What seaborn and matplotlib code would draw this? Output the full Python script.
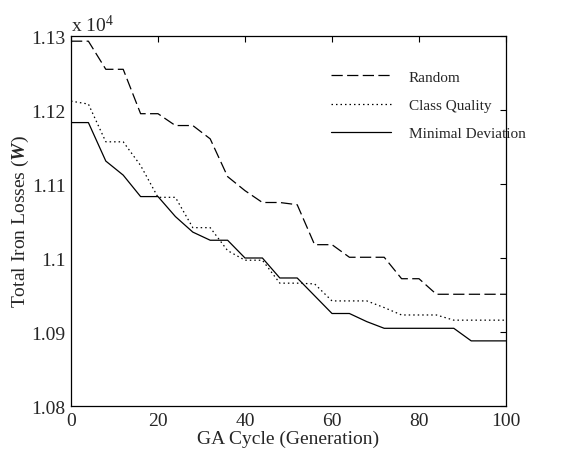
import numpy as np
import pandas as pd
import matplotlib
matplotlib.use("Agg")
import matplotlib.pyplot as plt
import seaborn as sns
from matplotlib.ticker import FixedLocator, FuncFormatter

generations = list(range(0, 101, 4))
random_w = [11293, 11293, 11255, 11255, 11195, 11195, 11179, 11179, 11161, 11110,
            11091, 11075, 11075, 11072, 11018, 11018, 11001, 11001, 11001, 10972,
            10972, 10951, 10951, 10951, 10951, 10951]
class_quality_w = [11212, 11208, 11157, 11157, 11125, 11082, 11082, 11041, 11041, 11010,
                   10997, 10997, 10966, 10966, 10965, 10942, 10942, 10942, 10933, 10923,
                   10923, 10923, 10916, 10916, 10916, 10916]
minimal_dev_w = [11183, 11183, 11131, 11112, 11083, 11083, 11056, 11035, 11024, 11024,
                 11000, 11000, 10973, 10973, 10949, 10925, 10925, 10914, 10905, 10905,
                 10905, 10905, 10905, 10888, 10888, 10888]
series_names = ["Random", "Class Quality", "Minimal Deviation"]
x_ticks = [0, 20, 40, 60, 80, 100]
y_ticks = [10800, 10900, 11000, 11100, 11200, 11300]

df = pd.DataFrame({
    "gen": generations * 3,
    "loss": random_w + class_quality_w + minimal_dev_w,
    "method": [series_names[0]] * len(generations) + [series_names[1]] * len(generations)
              + [series_names[2]] * len(generations),
})

sns.set_style("white")
plt.rcParams["font.family"] = ["Liberation Serif", "DejaVu Serif"]
plt.rcParams["mathtext.fontset"] = "custom"
plt.rcParams["mathtext.rm"] = "Liberation Serif"
plt.rcParams["mathtext.it"] = "Liberation Serif:italic"
plt.rcParams["mathtext.bf"] = "Liberation Serif:bold:italic"

W, H = 565, 464
fig = plt.figure(figsize=(W / 100, H / 100), dpi=100)
L, R, T, B = 71, 506, 37, 407
ax = fig.add_axes([L / W, 1 - B / H, (R - L) / W, (B - T) / H])

sns.lineplot(data=df, x="gen", y="loss", style="method", color="black",
             dashes={"Random": (9, 3.5), "Class Quality": (1.2, 2.4), "Minimal Deviation": ""},
             linewidth=0.9, ax=ax, legend=True)

ax.set_xlim(0, 100)
ax.set_ylim(10800, 11300)
ax.xaxis.set_major_locator(FixedLocator(x_ticks))
ax.yaxis.set_major_locator(FixedLocator(y_ticks))
ax.yaxis.set_major_formatter(FuncFormatter(lambda v, p: f"{v/1e4:g}"))
ax.tick_params(direction="in", top=True, right=True, length=4, width=0.8,
               labelsize=14, pad=4, color="black")
for s in ax.spines.values():
    s.set_linewidth(0.9)
    s.set_color("black")

ax.set_xlabel("GA Cycle (Generation)", fontsize=14, labelpad=1)
ax.set_ylabel(r"Total Iron Losses ($\mathbf{W}$)", fontsize=14)
ax.yaxis.set_label_coords(-0.092, 0.5)
ax.text(0.0, 1.003, r"x 10$^4$", transform=ax.transAxes, ha="left", va="bottom", fontsize=14)

leg = ax.legend(frameon=False, fontsize=11, loc="upper left",
                bbox_to_anchor=((331 - L) / (R - L), 1 - (71 - T) / (B - T)),
                borderpad=0, borderaxespad=0, handlelength=3.9, handletextpad=1.2,
                labelspacing=0.95)
for h in leg.get_lines():
    h.set_linewidth(0.9)

fig.savefig("out.png", dpi=100)
